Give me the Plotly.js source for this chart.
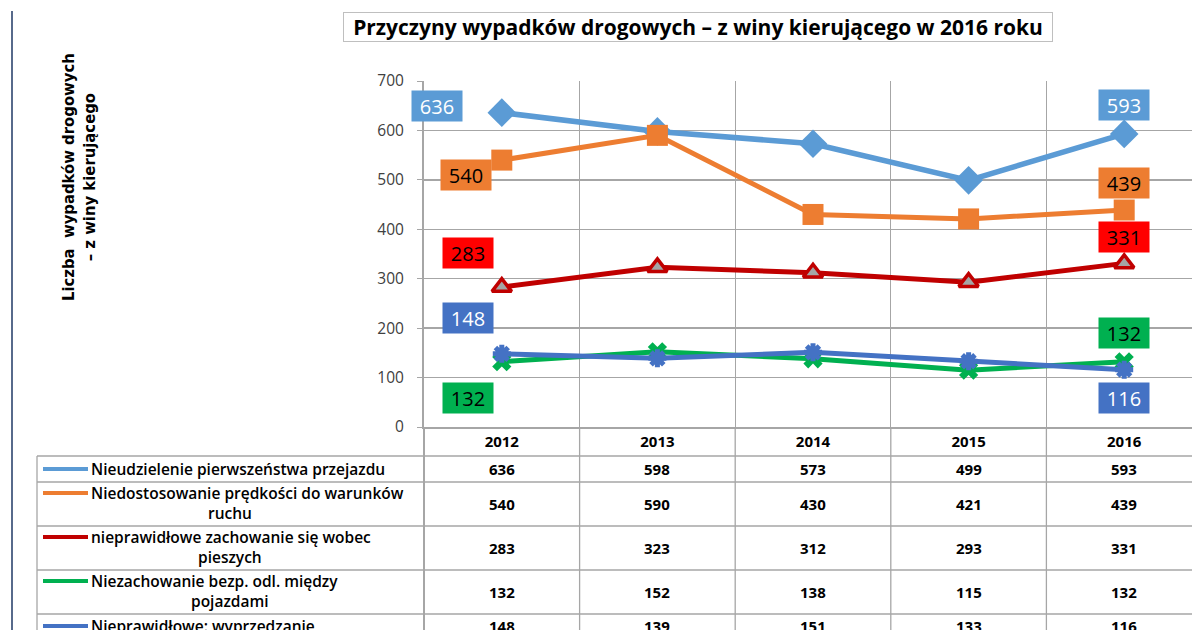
<!DOCTYPE html>
<html><head><meta charset="utf-8">
<script src="https://cdn.plot.ly/plotly-3.0.1.min.js"></script>
<style>html,body{margin:0;padding:0;background:#fff;overflow:hidden}#chart{width:1192px;height:630px}</style>
</head><body><div id="chart"></div>
<script>
// ---------- data ----------
const years = ['2012', '2013', '2014', '2015', '2016'];
const nieudzielenie = [636, 598, 573, 499, 593];
const niedostosowanie = [540, 590, 430, 421, 439];
const piesi = [283, 323, 312, 293, 331];
const odleglosc = [132, 152, 138, 115, 132];
const wyprzedzanie = [148, 139, 151, 133, 116];
const seriesLabels = [
  ['Nieudzielenie pierwszeństwa przejazdu'],
  ['Niedostosowanie prędkości do warunków', 'ruchu'],
  ['nieprawidłowe zachowanie się wobec', 'pieszych'],
  ['Niezachowanie bezp. odl. między', 'pojazdami'],
  ['Nieprawidłowe: wyprzedzanie']
];
const yTicks = [0, 100, 200, 300, 400, 500, 600, 700];
const chartTitle = 'Przyczyny wypadków drogowych – z winy kierującego w 2016 roku';
const yTitleLines = ['Liczba  wypadków drogowych', '– z winy kierującego'];

// ---------- styles ----------
const seriesData = [nieudzielenie, niedostosowanie, piesi, odleglosc, wyprzedzanie];
const styles = [
  {line: '#5B9BD5', symbol: 'diamond', size: 22, fill: '#5B9BD5', mline: '#5B9BD5', mw: 0, lw: 5.5, box: '#5B9BD5', txt: '#FFFFFF'},
  {line: '#ED7D31', symbol: 'square', size: 21, fill: '#ED7D31', mline: '#ED7D31', mw: 0, lw: 5, box: '#ED7D31', txt: '#000000'},
  {line: '#C00000', symbol: 'triangle-up', size: 17, fill: '#A5A5A5', mline: '#C00000', mw: 3.5, lw: 5, box: '#FF0000', txt: '#000000'},
  {line: '#00B050', symbol: 'x', size: 17, fill: '#00B050', mline: '#00B050', mw: 0, lw: 5, box: '#00B050', txt: '#000000'},
  {line: '#4472C4', symbol: 'asterisk-open', size: 15, fill: '#4472C4', mline: '#4472C4', mw: 5, lw: 5, box: '#4472C4', txt: '#FFFFFF'}
];
// data label offsets in px (category index -> [xshift, yshift])
const labelOffsets = [
  {0: [-65, 7], 4: [0, 29]},
  {0: [-36, -15], 4: [0, 27]},
  {0: [-34, 34], 4: [0, 26]},
  {0: [-34, -36], 4: [0, 29]},
  {0: [-34, 36], 4: [0, -28]}
];

// ---------- geometry ----------
const W = 1192, H = 630, L = 424, T = 81, B = 427;
const plotW = W - L, plotH = B - T, catW = 155.6;
const px = x => (x - L) / plotW;
const py = y => (B - y) / plotH;
const gridCol = '#A6A6A6';
const rowLines = [456, 482, 526, 570, 614];
const rowCenters = [469, 504, 548, 592, 626];
const FONT = 'Open Sans, sans-serif';

const traces = seriesData.map((vals, k) => ({
  type: 'scatter', mode: 'lines+markers', x: years, y: vals,
  line: {color: styles[k].line, width: styles[k].lw},
  marker: {symbol: styles[k].symbol, size: styles[k].size, color: styles[k].fill,
           line: {color: styles[k].mline, width: styles[k].mw}},
  showlegend: false, hoverinfo: 'skip', cliponaxis: false
}));
// legend keys in the data table (helper pixel axes)
seriesData.forEach((vals, k) => {
  const yk = seriesLabels[k].length > 1 ? rowCenters[k] - 11 : rowCenters[k];
  traces.push({
    type: 'scatter', mode: 'markers', x: [65], y: [yk], xaxis: 'x2', yaxis: 'y2',
    marker: {symbol: styles[k].symbol, size: styles[k].size * 0.62, color: styles[k].fill,
             line: {color: styles[k].mline, width: styles[k].mw * 0.6}},
    showlegend: false, hoverinfo: 'skip', cliponaxis: false
  });
});

const shapes = [];
const annotations = [];
// outer left navy line
shapes.push({type: 'line', xref: 'paper', yref: 'paper', x0: px(12), x1: px(12), y0: py(11), y1: py(632),
  line: {color: '#1F3864', width: 1.5}});
// table vertical lines
for (let i = 0; i <= 5; i++) {
  const xp = i * catW / plotW;
  if (xp > 1.01) continue;
  shapes.push({type: 'line', xref: 'paper', yref: 'paper', x0: xp, x1: xp, y0: 0, y1: py(632),
    line: {color: gridCol, width: i === 0 ? 2 : 1.3}});
}
shapes.push({type: 'line', xref: 'paper', yref: 'paper', x0: px(37), x1: px(37), y0: py(456), y1: py(632),
  line: {color: gridCol, width: 1.3}});
rowLines.forEach(y => shapes.push({type: 'line', xref: 'paper', yref: 'paper', x0: px(37), x1: 1.01, y0: py(y), y1: py(y),
  line: {color: gridCol, width: 1.5}}));
// table rows: labels, key lines, values
seriesData.forEach((vals, k) => {
  const lines = seriesLabels[k];
  const y1 = lines.length > 1 ? rowCenters[k] - 11 : rowCenters[k];
  shapes.push({type: 'line', xref: 'paper', yref: 'paper', x0: px(43), x1: px(88), y0: py(y1), y1: py(y1),
    line: {color: styles[k].line, width: 4}});
  annotations.push({xref: 'paper', yref: 'paper', x: px(89), y: py(y1), xanchor: 'left', yanchor: 'middle',
    text: lines[0], showarrow: false, font: {family: FONT, size: 15.5, color: '#000', weight: 600}});
  if (lines.length > 1) {
    annotations.push({xref: 'paper', yref: 'paper', x: px(230), y: py(rowCenters[k] + 9), xanchor: 'center', yanchor: 'middle',
      text: lines[1], showarrow: false, font: {family: FONT, size: 15.5, color: '#000', weight: 600}});
  }
  vals.forEach((v, i) => annotations.push({xref: 'x', yref: 'paper', x: i, y: py(rowCenters[k]),
    xanchor: 'center', yanchor: 'middle', text: String(v), showarrow: false,
    font: {family: FONT, size: 15, color: '#000', weight: 700}}));
  // data labels on the chart
  Object.keys(labelOffsets[k]).forEach(key => {
    const idx = Number(key);
    const [xs, ys] = labelOffsets[k][key];
    annotations.push({xref: 'x', yref: 'y', x: idx, y: vals[idx], xshift: xs, yshift: ys,
      text: String(vals[idx]), showarrow: false, width: 50, height: 30, borderpad: 0,
      bgcolor: styles[k].box, font: {family: FONT, size: 20, color: styles[k].txt}});
  });
});
// title box
annotations.push({xref: 'paper', yref: 'paper', x: px(698), y: py(27), xanchor: 'center', yanchor: 'middle',
  text: '<b>' + chartTitle + '</b>', showarrow: false, width: 706, height: 26, borderpad: 1,
  bordercolor: '#BFBFBF', borderwidth: 1, bgcolor: '#fff', font: {family: FONT, size: 21, color: '#000'}});
// y axis title
annotations.push({xref: 'paper', yref: 'paper', x: px(79), y: py(177), xanchor: 'center', yanchor: 'middle',
  text: '<b>' + yTitleLines.join('<br>') + '</b>', showarrow: false, textangle: -90,
  font: {family: 'Liberation Sans Narrow, DejaVu Sans Condensed, sans-serif', size: 16.5, color: '#000'}});

const layout = {
  width: W, height: H, margin: {l: L, r: 0, t: T, b: H - B, pad: 0},
  paper_bgcolor: '#fff', plot_bgcolor: '#fff', showlegend: false,
  xaxis: {type: 'category', range: [-0.5, -0.5 + plotW / catW], tickson: 'boundaries', ticks: '',
    showgrid: true, gridcolor: gridCol, gridwidth: 1.3, showline: true, linecolor: gridCol, linewidth: 1.5,
    tickfont: {family: FONT, size: 15, color: '#000', weight: 700}, fixedrange: true, zeroline: false},
  yaxis: {range: [0, 700], tickvals: yTicks, ticks: 'outside', ticklen: 5, tickcolor: gridCol,
    ticklabelstandoff: 10, showgrid: true, gridcolor: gridCol, gridwidth: 1.3, zeroline: false,
    showline: true, linecolor: gridCol, linewidth: 2,
    tickfont: {family: FONT, size: 15.5, color: '#404040'}, fixedrange: true},
  xaxis2: {overlaying: 'x', anchor: 'y2', range: [L, W], visible: false, fixedrange: true},
  yaxis2: {overlaying: 'y', anchor: 'x2', range: [B, T], visible: false, fixedrange: true},
  shapes: shapes, annotations: annotations
};
Plotly.newPlot('chart', traces, layout, {displayModeBar: false, staticPlot: true});
</script></body></html>
